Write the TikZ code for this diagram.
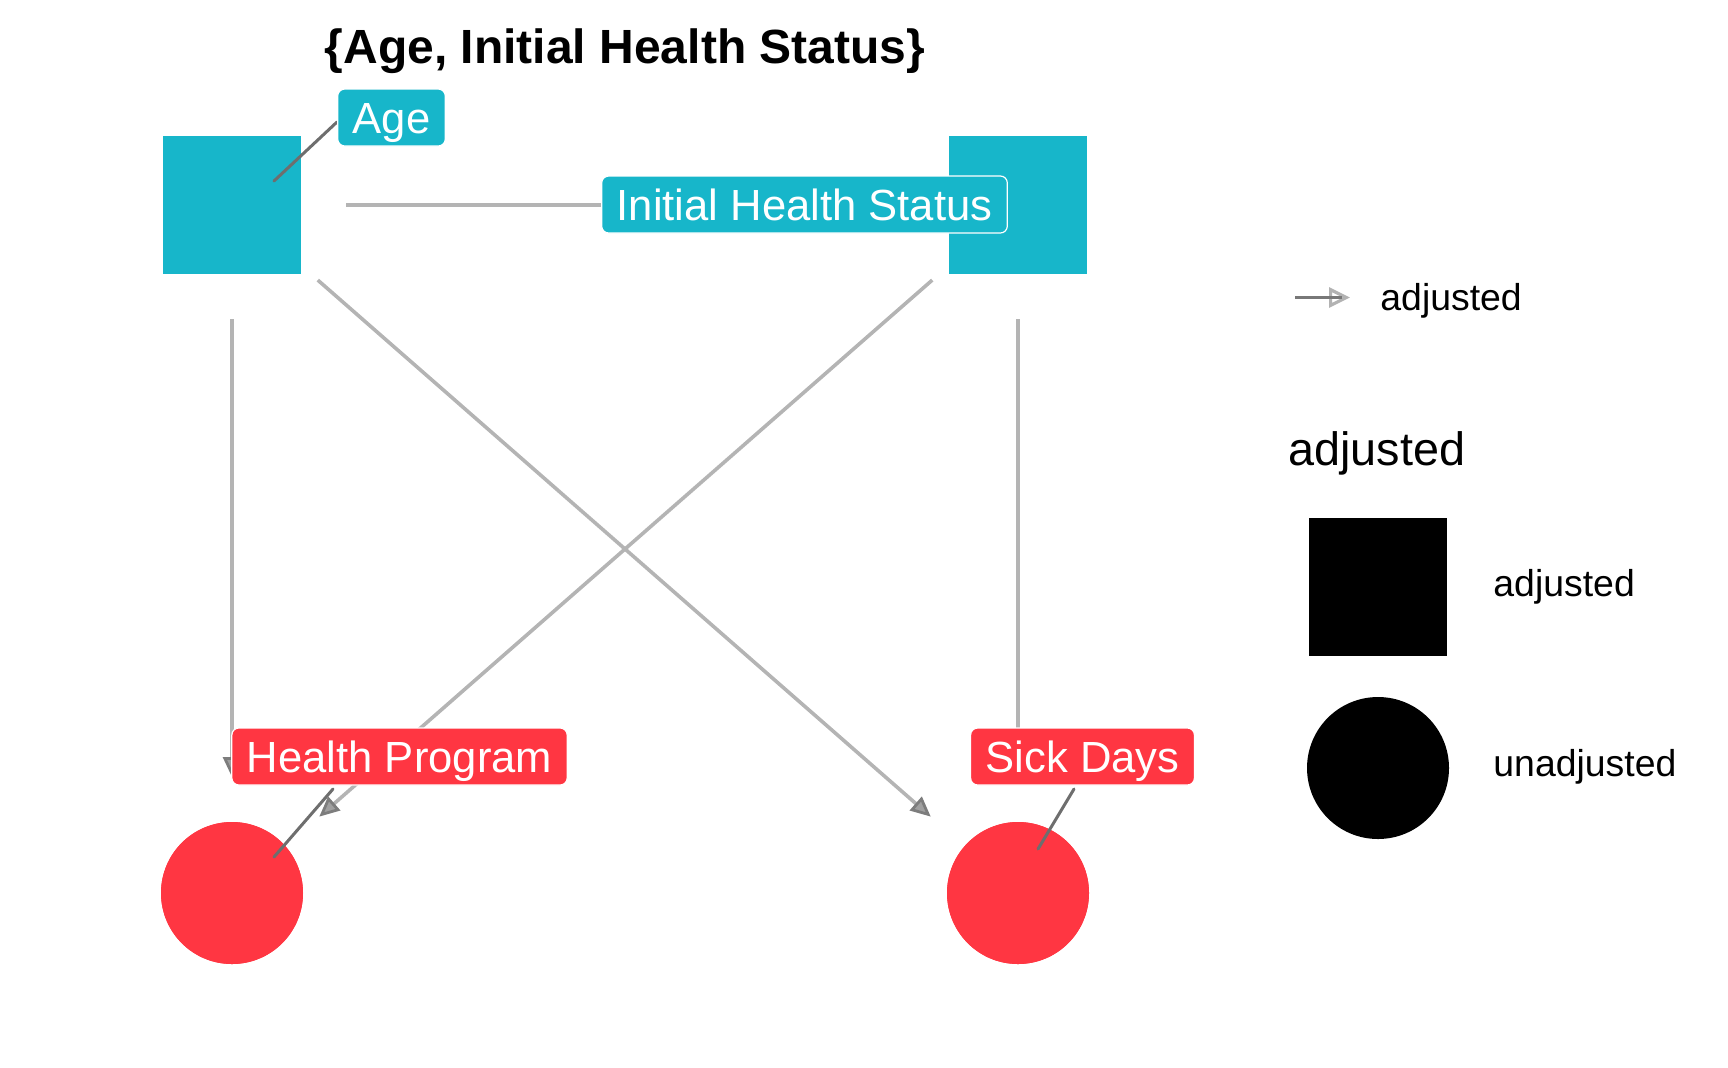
\documentclass[tikz,border=0pt]{standalone}
\usepackage{fontspec}
\setmainfont{Liberation Sans}
\usetikzlibrary{arrows.meta}
\definecolor{dagcyan}{RGB}{23,182,202}
\definecolor{dagred}{RGB}{255,54,66}
\definecolor{edgegray}{RGB}{180,180,180}
\definecolor{tipgray}{RGB}{125,125,125}
\definecolor{tipfill}{RGB}{160,160,160}
\definecolor{seggray}{RGB}{110,110,110}
\definecolor{leggray}{RGB}{120,120,120}
\definecolor{legtip}{RGB}{178,178,178}
\begin{document}
\begin{tikzpicture}[x=0.5pt,y=-0.5pt,
  edge/.style={draw=edgegray, line width=1.8pt,
    -{Triangle[length=10pt,width=9pt,line width=1.4pt,color=tipgray,fill=tipfill]},
    shorten <=57pt, shorten >=58pt},
  adjnode/.style={rectangle, draw=none, fill=dagcyan, minimum size=69pt, inner sep=0pt},
  unadjnode/.style={circle, draw=none, fill=dagred, minimum size=71pt, inner sep=0pt},
  lbl/.style={rectangle, rounded corners=3.5pt, draw=white, line width=0.6pt, text=white,
    font=\fontsize{21.8}{26}\selectfont, inner xsep=7.5pt, inner ysep=4pt,
    text height=18.35pt, text depth=2.15pt},
  seg/.style={draw=seggray, line width=1.5pt, line cap=round},
  legtext/.style={font=\fontsize{18.7}{22}\selectfont, anchor=base west, inner sep=0pt},
  legtitle/.style={font=\fontsize{23.4}{28}\selectfont, anchor=base west, inner sep=0pt}
]
\useasboundingbox (0,0) rectangle (1728,1067);

% title
\node[font=\bfseries\fontsize{24}{28}\selectfont, anchor=base, inner sep=0pt] (title) at (625,63) {\{Age, Initial Health Status\}};

% nodes
\node[adjnode] (A) at (232,205) {};
\node[adjnode] (I) at (1018,205) {};
\node[unadjnode] (H) at (232,893) {};
\node[unadjnode] (S) at (1018,893) {};

% edges
\draw[edge] (A.center) -- (I.center);
\draw[edge] (A.center) -- (H.center);
\draw[edge] (A.center) -- (S.center);
\draw[edge] (I.center) -- (H.center);
\draw[edge] (I.center) -- (S.center);

% redraw nodes on top of edges
\node[adjnode] at (A.center) {};
\node[adjnode] at (I.center) {};
\node[unadjnode] at (H.center) {};
\node[unadjnode] at (S.center) {};

% label segments
\coordinate (segA1) at (337,122);
\coordinate (segA2) at (274,181);
\coordinate (segH1) at (333,789);
\coordinate (segH2) at (274,857);
\coordinate (segS1) at (1074,789);
\coordinate (segS2) at (1038,849);
\draw[seg] (segA1) -- (segA2);
\draw[seg] (segH1) -- (segH2);
\draw[seg] (segS1) -- (segS2);

% labels
\node[lbl, fill=dagcyan] (Alab) at (391.5,117.5) {Age};
\node[lbl, fill=dagcyan] (Ilab) at (804.5,204.5) {Initial Health Status};
\node[lbl, fill=dagred] (Hlab) at (399.5,756.5) {Health Program};
\node[lbl, fill=dagred] (Slab) at (1082.5,756.5) {Sick Days};

% legend
\coordinate (legA1) at (1295,297.5);
\coordinate (legA2) at (1350,297.5);
\draw[draw=leggray, line width=1.7pt, -{Triangle[open,length=10.5pt,width=10pt,color=legtip,line width=1.6pt]}] (legA1) -- (legA2);
\draw[draw=leggray, line width=1.7pt] (legA1) -- ([xshift=-4pt]legA2);
\node[legtext] (legarrowtext) at (1380,310.5) {adjusted};
\node[legtitle] (legtitle) at (1288,465) {adjusted};
\node[rectangle, fill=black, minimum size=69pt, inner sep=0pt] (legsq) at (1377.5,587) {};
\node[legtext] (legsqtext) at (1493,596.5) {adjusted};
\node[circle, fill=black, minimum size=71pt, inner sep=0pt] (legci) at (1378,768) {};
\node[legtext] (legcitext) at (1493,776.5) {unadjusted};
\end{tikzpicture}
\end{document}
